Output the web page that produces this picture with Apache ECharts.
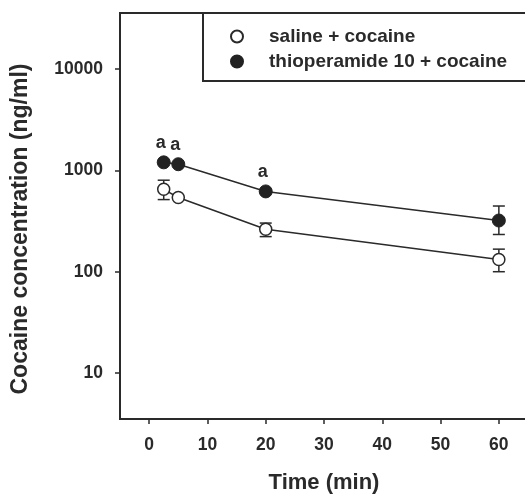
<!DOCTYPE html>
<html><head><meta charset="utf-8">
<script src="https://cdn.jsdelivr.net/npm/echarts@6/dist/echarts.min.js"></script>
<style>html,body{margin:0;padding:0;background:#fff}#c{width:525px;height:495px}</style>
</head><body><div id="c"></div>
<script>
const time = [2.5, 5, 20, 60];
const saline = [650, 540, 262, 132];
const salineHi = [800, null, 302, 167];
const salineLo = [515, null, 222, 100];
const thio = [1200, 1150, 620, 320];
const thioHi = [null, null, null, 445];
const thioLo = [null, null, null, 233];
const thioMarks = ['a', 'a', 'a', ''];
const xTicks = [0, 10, 20, 30, 40, 50, 60];
const yTicks = [10, 100, 1000, 10000];
const seriesNames = ['saline + cocaine', 'thioperamide 10 + cocaine'];

const FONT = 'Liberation Sans';
const INK = '#2a2a2a';

function errData(mean, hi, lo) {
  const out = [];
  time.forEach((t, i) => { if (hi[i] != null) out.push([t, mean[i], lo[i], hi[i]]); });
  return out;
}
function errSeries(data) {
  return {
    type: 'custom', z: 1, silent: true,
    data: data,
    encode: { x: 0, y: [2, 3] },
    renderItem: function (params, api) {
      const x = api.value(0);
      const lo = api.coord([x, api.value(2)]);
      const hi = api.coord([x, api.value(3)]);
      const hw = 6;
      const st = { stroke: INK, lineWidth: 1.5 };
      return { type: 'group', children: [
        { type: 'line', shape: { x1: lo[0], y1: lo[1], x2: hi[0], y2: hi[1] }, style: st },
        { type: 'line', shape: { x1: lo[0] - hw, y1: lo[1], x2: lo[0] + hw, y2: lo[1] }, style: st },
        { type: 'line', shape: { x1: hi[0] - hw, y1: hi[1], x2: hi[0] + hw, y2: hi[1] }, style: st }
      ]};
    }
  };
}

const chart = echarts.init(document.getElementById('c'));
chart.setOption({
  animation: false,
  backgroundColor: '#fff',
  textStyle: { fontFamily: FONT },
  grid: { left: 120, top: 13, width: 408, bottom: 76, show: true, borderColor: INK, borderWidth: 2,
    outerBoundsMode: 'none', containLabel: false },
  legend: {
    data: seriesNames,
    orient: 'vertical',
    left: 203, top: 13,
    padding: [14, 160, 10, 27],
    itemGap: 6,
    itemWidth: 12, itemHeight: 12,
    icon: 'circle',
    backgroundColor: '#fff',
    borderColor: INK, borderWidth: 2,
    textStyle: { fontFamily: FONT, fontSize: 19, fontWeight: 'bold', color: INK, padding: [0, 0, 0, 21] }
  },
  xAxis: {
    type: 'value', min: -5, max: 65,
    name: 'Time (min)', nameLocation: 'middle', nameGap: 53,
    nameTextStyle: { fontFamily: FONT, fontSize: 22, fontWeight: 'bold', color: INK },
    axisLine: { show: true, onZero: false, lineStyle: { color: INK, width: 2 } },
    axisTick: { show: true, length: 5, lineStyle: { color: INK, width: 1.5 }, customValues: xTicks },
    axisLabel: { customValues: xTicks, margin: 17, fontFamily: FONT, fontSize: 17.5, fontWeight: 'bold', color: INK },
    splitLine: { show: false }
  },
  yAxis: {
    type: 'log', logBase: 10, min: 3.52, max: 35730,
    name: 'Cocaine concentration (ng/ml)', nameLocation: 'middle', nameGap: 88,
    nameTextStyle: { fontFamily: FONT, fontSize: 23, fontWeight: 'bold', color: INK, padding: [0, 26, 0, 0] },
    axisLine: { show: true, onZero: false, lineStyle: { color: INK, width: 2 } },
    axisTick: { show: true, length: 5, lineStyle: { color: INK, width: 1.5 }, customValues: yTicks },
    axisLabel: { customValues: yTicks, margin: 17, fontFamily: FONT, fontSize: 17.5, fontWeight: 'bold', color: INK,
      formatter: v => String(Math.round(v)) },
    splitLine: { show: false }
  },
  series: [
    errSeries(errData(saline, salineHi, salineLo)),
    errSeries(errData(thio, thioHi, thioLo)),
    {
      name: seriesNames[0], type: 'line', z: 3,
      data: time.map((t, i) => [t, saline[i]]),
      symbol: 'circle', symbolSize: 12,
      lineStyle: { color: INK, width: 1.5 },
      itemStyle: { color: '#fff', borderColor: INK, borderWidth: 1.5 }
    },
    {
      name: seriesNames[1], type: 'line', z: 3,
      data: time.map((t, i) => ({
        value: [t, thio[i]],
        label: { show: thioMarks[i] !== '', formatter: thioMarks[i] }
      })),
      symbol: 'circle', symbolSize: 13,
      lineStyle: { color: INK, width: 1.5 },
      itemStyle: { color: '#222', borderColor: '#222', borderWidth: 1 },
      label: { position: 'top', distance: 3, offset: [-3, 0], fontFamily: FONT, fontSize: 18, fontWeight: 'bold', color: INK }
    }
  ]
});
</script></body></html>
